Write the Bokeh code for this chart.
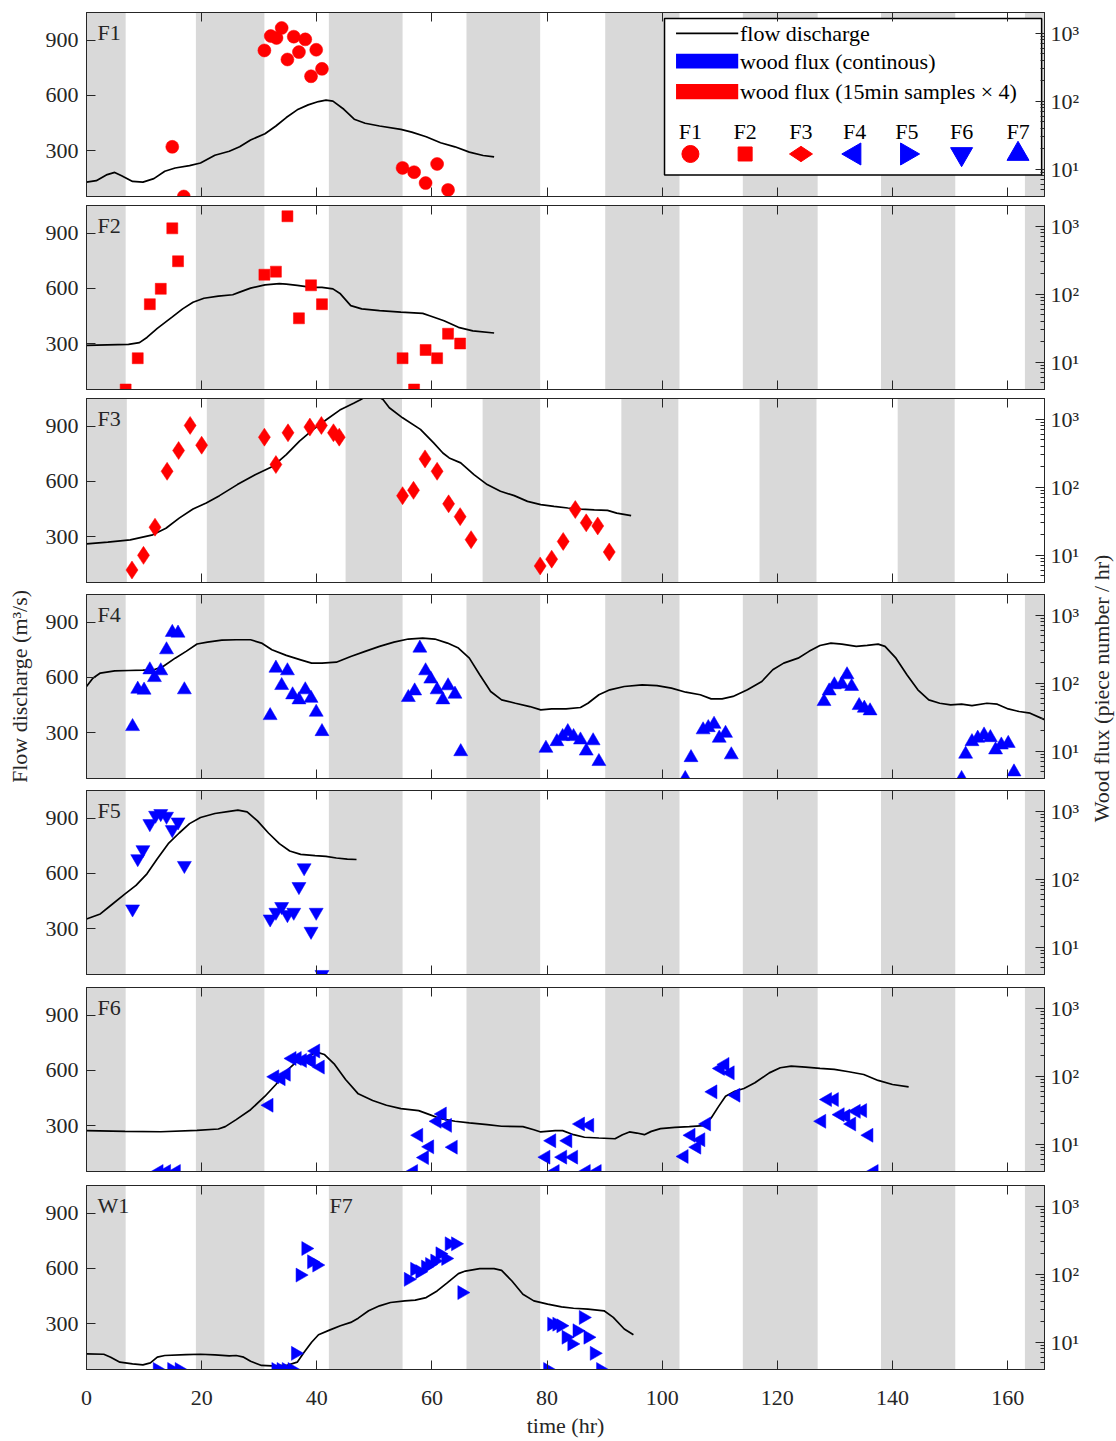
import math
from bokeh.plotting import figure
from bokeh.models import (Range1d, LogScale, LinearAxis, LogAxis, FixedTicker,
                          Label, CustomJSTickFormatter, ColumnDataSource)
from bokeh.layouts import column, row
from bokeh.embed import file_html
from bokeh.resources import INLINE

# ---------------- axes / ticks ----------------
X_MAX = 166.4
Q_MIN, Q_MAX = 50, 1050
FLUX_MIN, FLUX_MAX = 4, 2000
XTICKS = [0, 20, 40, 60, 80, 100, 120, 140, 160]
QTICKS = [300, 600, 900]
FLUX_TICKS = [10, 100, 1000]
FLUX_TICK_LABELS = ["10¹", "10²", "10³"]

# night periods (grey bands)
NIGHT_START = [0, 19.0, 42.1, 66.0, 90.1, 114.0, 138.0, 163.0]
NIGHT_END = [6.8, 30.9, 54.9, 78.8, 103.0, 127.0, 150.9, 166.4]
NIGHT_F3_START = [0, 20.9, 45.0, 68.8, 92.9, 116.9, 140.9]
NIGHT_F3_END = [7.0, 30.9, 54.8, 78.8, 102.8, 126.8, 150.8]

# ---------------- flow discharge (m3/s) ----------------
F1_T = [0, 1.7, 3.6, 4.9, 6.1, 8.0, 9.8, 11.7, 13.6, 15.4, 17.9, 19.8, 22.3, 24.8, 26.6, 28.5, 31.0, 32.9, 34.7, 36.6,
        38.5, 40.3, 41.6, 42.8, 44.7, 46.5, 48.4, 50.9, 54.6, 56.5, 59.0, 61.5, 64.0, 66.5, 68.9, 70.8]
F1_Q = [128, 136, 169, 181, 163, 132, 128, 147, 187, 205, 218, 232, 274, 296, 320, 357, 391, 433, 479, 521,
        548, 566, 574, 568, 524, 470, 448, 433, 415, 400, 375, 342, 320, 291, 273, 265]

F2_T = [0, 3.6, 7.3, 9.2, 10.5, 12.3, 14.8, 16.7, 18.5, 20.4, 22.9, 25.4, 26.6, 28.5, 31.0, 33.5, 34.7, 36.6, 39.1, 40.9,
        42.8, 44.1, 45.9, 47.8, 50.9, 54.6, 58.4, 59.6, 62.1, 64.6, 67.1, 70.8]
F2_Q = [290, 293, 295, 305, 333, 382, 442, 488, 524, 546, 557, 565, 579, 601, 619, 625, 623, 616, 605, 605,
        597, 570, 506, 488, 479, 470, 464, 451, 424, 388, 369, 357]

F3_T = [0, 3.7, 7.6, 11.5, 13.8, 16.1, 18.5, 20.8, 23.1, 26.2, 29.3, 32.4, 34.7, 37.0, 39.4, 41.7, 44.0, 46.4, 47.5, 48.5,
        49.5, 50.5, 51.5, 52.6, 54.9, 58.0, 60.3, 61.9, 63.0, 65.0, 67.3, 69.6, 71.9, 74.3, 76.6, 78.9, 81.2, 83.6, 85.9, 88.2,
        90.5, 92.1, 94.6]
F3_Q = [260, 269, 282, 309, 345, 400, 449, 482, 522, 582, 636, 682, 745, 818, 882, 936, 987, 1024, 1042, 1060,
        1068, 1062, 1045, 1000, 945, 882, 809, 754, 727, 700, 636, 582, 546, 522, 491, 473, 464, 455, 449, 445,
        442, 427, 413]

F4_T = [0, 1.1, 2.4, 4.9, 7.3, 9.8, 11.7, 13.3, 15.4, 17.3, 19.2, 21.0, 23.5, 26.0, 28.5, 30.4, 32.2, 34.7, 37.2, 39.1,
        40.9, 43.4, 45.9, 48.4, 50.9, 53.4, 55.9, 58.4, 60.5, 62.7, 64.6, 66.5, 68.3, 70.2, 72.1, 74.5, 77.0, 78.9, 80.8, 83.3,
        85.8, 87.1, 89.0, 90.9, 93.4, 96.5, 99.1, 101.6, 104.1, 106.6, 108.5, 110.4, 112.3, 114.8, 117.3, 119.2, 121.1, 123.6,
        125.5, 127.4, 129.3, 131.2, 133.7, 135.6, 137.5, 138.7, 140.6, 142.5, 144.4, 146.3, 148.2, 150.1, 152.0, 153.8,
        156.4, 158.2, 160.1, 162.0, 163.9, 166.4]
F4_Q = [550, 595, 623, 635, 637, 639, 641, 659, 704, 741, 781, 791, 802, 804, 804, 786, 750, 719, 695, 677,
        677, 682, 713, 741, 768, 791, 808, 813, 808, 786, 759, 704, 614, 523, 477, 459, 441, 423, 428, 428,
        436, 459, 505, 532, 550, 559, 555, 541, 519, 505, 483, 483, 496, 532, 577, 641, 677, 704, 741, 773,
        786, 780, 768, 773, 780, 768, 704, 614, 532, 477, 459, 450, 454, 446, 459, 454, 428, 414, 405, 370]

F5_T = [0, 2.4, 4.2, 6.7, 8.6, 10.5, 12.3, 14.2, 16.1, 17.9, 19.8, 22.3, 24.8, 26.3, 27.9, 29.7, 31.6, 33.5, 35.3, 37.2,
        39.7, 41.6, 43.4, 45.3, 46.9]
F5_Q = [352, 379, 425, 488, 534, 597, 679, 761, 819, 870, 903, 925, 937, 943, 934, 885, 819, 761, 721, 703,
        696, 692, 683, 677, 675]

F6_T = [0, 6.7, 12.9, 19.2, 22.9, 24.1, 26.0, 28.5, 31.0, 32.9, 34.7, 36.6, 38.5, 40.0, 41.3, 43.1, 45.0, 47.2, 49.7, 52.1,
        54.6, 57.7, 59.6, 61.5, 64.0, 66.5, 69.6, 72.1, 75.8, 77.7, 78.9, 81.4, 82.7, 84.6, 86.5, 89.0, 91.8, 93.1, 94.3, 95.6,
        96.9, 98.1, 99.7, 102.2, 104.7, 107.2, 108.5, 109.8, 111.0, 112.6, 114.2, 116.1, 118.6, 120.5, 122.4, 124.9, 127.4,
        129.9, 132.4, 135.0, 137.5, 140.0, 142.8]
F6_Q = [272, 268, 266, 274, 281, 294, 332, 386, 459, 523, 595, 650, 677, 699, 686, 632, 550, 472, 436, 410,
        392, 381, 359, 337, 323, 314, 305, 296, 294, 277, 265, 272, 272, 250, 236, 232, 228, 250, 265, 259,
        250, 268, 283, 290, 294, 299, 341, 404, 459, 486, 501, 532, 586, 614, 623, 617, 610, 605, 592, 577,
        545, 523, 510]

W1_T = [0, 3.0, 4.2, 5.8, 8.0, 9.8, 11.1, 12.3, 13.6, 17.3, 19.8, 22.3, 24.8, 26.0, 27.3, 28.5, 30.4, 32.2, 34.7, 36.6,
        37.8, 39.1, 40.3, 42.2, 44.1, 45.9, 47.2, 49.0, 50.9, 52.8, 55.3, 57.1, 59.0, 60.9, 62.7, 64.6, 65.8, 68.3, 70.8, 72.1,
        73.9, 75.8, 77.7, 80.1, 82.5, 84.6, 87.1, 89.9, 91.5, 93.4, 95.0]
W1_Q = [135, 133, 117, 90, 81, 75, 86, 117, 126, 131, 133, 129, 124, 126, 117, 95, 72, 70, 72, 90,
        144, 198, 239, 264, 288, 306, 329, 369, 396, 414, 423, 427, 441, 477, 522, 571, 585, 598, 598, 589,
        531, 459, 423, 405, 390, 383, 378, 369, 333, 270, 239]

# ---------------- wood flux (pieces / hr) ----------------
F1_FT = [14.9, 16.9, 30.9, 32.0, 33.0, 33.9, 34.9, 36.0, 36.9, 38.0, 39.0, 39.9, 40.9, 54.9, 56.9, 58.9, 60.9, 62.8]
F1_FV = [21.4, 4, 555, 904, 845, 1186, 409, 884, 525, 807, 232, 568, 298, 10.5, 9.1, 6.3, 12.0, 5.0]

F2_FT = [6.8, 8.9, 11.0, 12.9, 14.9, 15.9, 30.9, 32.9, 34.9, 36.9, 39.0, 40.9, 54.9, 56.9, 58.9, 60.9, 62.8, 64.9]
F2_FV = [4, 11.5, 71.3, 120, 925, 304, 193, 214, 1390, 44.3, 135, 71.3, 11.5, 4, 15.2, 11.5, 26.3, 18.9]

F3_FT = [7.9, 9.9, 11.9, 14.0, 16.0, 18.0, 20.0, 30.9, 32.9, 35.0, 38.8, 40.8, 42.9, 43.9, 54.9, 56.8, 58.8, 60.9,
         62.9, 64.9, 66.8, 78.8, 80.8, 82.8, 84.9, 86.8, 88.8, 90.8]
F3_FV = [6.1, 10.0, 25.9, 171, 345, 805, 413, 542, 215, 628, 761, 805, 628, 542, 75, 90, 260, 171,
         57, 37, 17, 7.0, 8.8, 16, 47, 30, 27, 11.2]

F4_FT = [8.0, 8.9, 10.0, 11.0, 11.8, 12.9, 13.9, 14.9, 15.9, 17.0, 31.9, 32.9, 33.9, 34.9, 35.8, 36.9, 38.0, 39.0, 39.9,
         40.9, 55.9, 57.0, 57.9, 58.9, 59.8, 60.9, 61.9, 62.8, 64.0, 65.0, 79.8, 81.7, 82.7, 83.6, 84.6, 85.8, 86.8, 88.0,
         89.0, 104.0, 105.0, 107.1, 108.0, 109.0, 109.9, 111.0, 112.0, 128.1, 129.0, 129.9, 131.2, 132.1, 132.9, 134.2,
         135.1, 136.1, 152.0, 152.7, 153.8, 154.8, 155.9, 157.0, 157.9, 158.9, 160.1, 161.1]
F4_FV = [23.1, 81.7, 79, 157, 121, 152, 309, 556, 543, 80, 33.5, 166, 92.5, 152, 67.5, 57, 80, 60, 37.5,
         19.5, 61.7, 77, 327, 152, 115, 80, 57, 91.6, 69, 9.9, 11.1, 13.9, 16.5, 19.5, 16.5, 14.7, 10.1, 14.3,
         7.1, 4, 8.1, 20.7, 22.3, 25.0, 15.6, 18.4, 8.9, 53.8, 77, 94.7, 96.8, 133, 89.5, 47,
         43, 39.3, 4, 9.1, 13.9, 15.6, 17.4, 15.9, 10.5, 12.4, 13.1, 5.0]

F5_FT = [8.0, 8.9, 9.8, 11.0, 12.0, 12.9, 13.9, 14.9, 15.9, 17.0, 31.9, 32.9, 33.9, 34.9, 36.0, 36.9, 37.8, 39.0, 39.9, 40.9]
F5_FV = [36.6, 200, 271, 653, 866, 917, 837, 533, 692, 159, 26.1, 32.7, 39.7, 30.2, 32.7, 78, 147, 17.2, 32.7, 4]

F6_FT = [12.6, 13.9, 15.6, 31.7, 32.7, 33.8, 34.7, 35.7, 36.6, 37.5, 38.5, 39.1, 39.8, 40.6, 56.8, 57.7, 58.7, 59.6,
         60.9, 61.8, 62.7, 63.7, 79.8, 80.8, 81.4, 82.7, 83.6, 84.6, 85.8, 86.8, 87.4, 88.7, 103.8, 105.0, 106.0, 106.7,
         107.7, 108.8, 110.1, 110.9, 111.8, 112.8, 127.7, 128.7, 129.9, 130.9, 131.9, 132.9, 133.7, 134.8, 135.9, 136.8]
F6_FV = [4, 4, 4, 37.5, 98, 92, 107, 182, 182, 170, 176, 165, 234, 136, 4, 13.6, 6.4, 9.2,
         21.8, 27.9, 19.0, 9.1, 6.5, 11.3, 4, 6.5, 11.3, 6.5, 19.9, 4, 19.0, 4, 6.65, 13.6, 9.1, 11.7,
         19.9, 58.9, 130, 149, 112, 52.6, 21.8, 45.4, 45.4, 27.3, 26.0, 19.9, 30.5, 31.3, 13.6, 4]

F7_FT = [12.3, 14.8, 16.1, 32.9, 33.8, 34.7, 35.7, 36.3, 37.1, 38.1, 39.1, 40.0, 55.9, 57.0, 57.9, 58.9, 59.6, 60.5,
         61.4, 62.4, 63.0, 64.1, 65.2, 80.1, 80.8, 81.7, 82.4, 83.3, 84.3, 85.2, 86.3, 87.1, 88.2, 89.3]
F7_FV = [4, 4, 4, 4, 4, 4, 4, 6.9, 97, 238, 152, 136, 84, 118, 109, 127, 139, 156,
         199, 170, 279, 279, 53.7, 4, 18.5, 18.5, 17.5, 11.9, 9.5, 14.8, 23.2, 11.9, 6.9, 4]

# ---------------- style ----------------
FONT = "Liberation Serif"
FS = "22px"
AX = "#262626"
GRAY = "#d9d9d9"
RED = "#ff0000"
BLUE = "#0000ff"

LEFT_TRI = math.pi / 2
RIGHT_TRI = -math.pi / 2

PANELS = [
    dict(name="F1", t=F1_T, q=F1_Q, ft=F1_FT, fv=F1_FV, marker="circle", size=13, angle=0, color=RED,
         ns=NIGHT_START, ne=NIGHT_END, top=12),
    dict(name="F2", t=F2_T, q=F2_Q, ft=F2_FT, fv=F2_FV, marker="square", size=11, angle=0, color=RED,
         ns=NIGHT_START, ne=NIGHT_END, top=5),
    dict(name="F3", t=F3_T, q=F3_Q, ft=F3_FT, fv=F3_FV, marker="diamond", size=18, angle=0, color=RED,
         ns=NIGHT_F3_START, ne=NIGHT_F3_END, top=5),
    dict(name="F4", t=F4_T, q=F4_Q, ft=F4_FT, fv=F4_FV, marker="triangle", size=14, angle=0, color=BLUE,
         ns=NIGHT_START, ne=NIGHT_END, top=8),
    dict(name="F5", t=F5_T, q=F5_Q, ft=F5_FT, fv=F5_FV, marker="inverted_triangle", size=14, angle=0, color=BLUE,
         ns=NIGHT_START, ne=NIGHT_END, top=8),
    dict(name="F6", t=F6_T, q=F6_Q, ft=F6_FT, fv=F6_FV, marker="triangle", size=14, angle=LEFT_TRI, color=BLUE,
         ns=NIGHT_START, ne=NIGHT_END, top=9),
    dict(name="W1", t=W1_T, q=W1_Q, ft=F7_FT, fv=F7_FV, marker="triangle", size=14, angle=RIGHT_TRI, color=BLUE,
         ns=NIGHT_START, ne=NIGHT_END, top=10),
]

BOTTOM_AXIS_H = 69
FRAME_H = 184
TOTAL_H = sum(pn["top"] for pn in PANELS) + len(PANELS) * FRAME_H + 4 * (len(PANELS) - 1) + BOTTOM_AXIS_H

minor = []
for e in range(0, 4):
    for k in range(2, 10):
        v = k * 10 ** e
        if FLUX_MIN <= v <= FLUX_MAX:
            minor.append(v)

flux_fmt = CustomJSTickFormatter(
    args=dict(fticks=FLUX_TICKS, flabels=FLUX_TICK_LABELS),
    code="""
    for (let i = 0; i < fticks.length; i++) {
        if (Math.abs(tick - fticks[i]) < 1e-6 * fticks[i]) { return flabels[i]; }
    }
    return '';
    """)


def style_axis(ax):
    ax.axis_line_color = AX
    ax.major_tick_line_color = AX
    ax.minor_tick_line_color = AX
    ax.major_tick_in = 9
    ax.major_tick_out = 0
    ax.minor_tick_in = 4
    ax.minor_tick_out = 0
    ax.major_label_text_font = FONT
    ax.major_label_text_font_size = FS
    ax.major_label_text_color = AX
    ax.axis_label_text_font = FONT
    ax.axis_label_text_font_size = FS
    ax.axis_label_text_font_style = "normal"
    ax.axis_label_text_color = AX


def hide_labels(ax):
    ax.major_label_text_font_size = "0px"
    ax.major_label_standoff = 0
    ax.major_label_text_color = None


figs = []
n = len(PANELS)
for i, pan in enumerate(PANELS):
    last = (i == n - 1)
    p = figure(frame_width=958, frame_height=FRAME_H,
               x_range=Range1d(0, X_MAX), y_range=Range1d(Q_MIN, Q_MAX),
               output_backend="svg", toolbar_location=None,
               min_border_left=86, min_border_right=42,
               min_border_top=pan["top"], min_border_bottom=(4 if not last else BOTTOM_AXIS_H),
               background_fill_color="white", border_fill_color="white")
    p.grid.visible = False
    p.outline_line_color = AX
    p.outline_line_width = 1
    p.extra_y_ranges = {"flux": Range1d(FLUX_MIN, FLUX_MAX)}
    p.extra_y_scales = {"flux": LogScale()}

    # night bands
    p.quad(left=pan["ns"], right=pan["ne"], bottom=Q_MIN, top=Q_MAX,
           fill_color=GRAY, line_color=None)
    # flow discharge
    p.line(pan["t"], pan["q"], line_color="black", line_width=1.7)
    # wood flux
    p.scatter(pan["ft"], pan["fv"], marker=pan["marker"], size=pan["size"], angle=pan["angle"],
              fill_color=pan["color"], line_color=pan["color"], line_width=0.5, y_range_name="flux")

    # axes
    bx = p.below[0]
    style_axis(bx)
    bx.ticker = FixedTicker(ticks=XTICKS)
    bx.minor_tick_line_color = None
    if last:
        bx.axis_label = "time (hr)"
        bx.major_label_standoff = 21
        bx.axis_label_standoff = 5
    else:
        hide_labels(bx)

    tx = LinearAxis(ticker=FixedTicker(ticks=XTICKS))
    style_axis(tx)
    tx.minor_tick_line_color = None
    hide_labels(tx)
    p.add_layout(tx, "above")

    ly = p.left[0]
    style_axis(ly)
    ly.ticker = FixedTicker(ticks=QTICKS)
    ly.minor_tick_line_color = None
    ly.major_label_standoff = 8

    ry = LogAxis(y_range_name="flux", ticker=FixedTicker(ticks=FLUX_TICKS, minor_ticks=minor),
                 formatter=flux_fmt)
    style_axis(ry)
    ry.major_label_standoff = 6
    p.add_layout(ry, "right")

    if pan["name"] == "F4":
        ly.axis_label = "Flow discharge (m³/s)"
        ly.axis_label_standoff = 11

    p.add_layout(Label(x=1.9, y=940, text=pan["name"], text_font=FONT, text_font_size=FS,
                       text_color=AX, text_baseline="middle", text_align="left"))
    if pan["name"] == "W1":
        p.add_layout(Label(x=42.2, y=940, text="F7", text_font=FONT, text_font_size=FS,
                           text_color=AX, text_baseline="middle", text_align="left"))

    if i == 0:
        # legend box drawn in the first panel
        p.quad(left=[100.4], right=[165.9], bottom=[167], top=[1018],
               fill_color="white", line_color="black", line_width=1.5)
        p.line([102.4, 113.2], [937, 937], line_color="black", line_width=1.7)
        p.quad(left=[102.4], right=[113.2], bottom=[786 - 40], top=[786 + 40],
               fill_color=BLUE, line_color=None)
        p.quad(left=[102.4], right=[113.2], bottom=[620 - 42], top=[620 + 42],
               fill_color=RED, line_color=None)
        for yy, txt in [(937, "flow discharge"), (786, "wood flux (continous)"),
                        (620, "wood flux (15min samples × 4)")]:
            p.add_layout(Label(x=113.5, y=yy, text=txt, text_font=FONT, text_font_size=FS,
                               text_color="black", text_baseline="middle", text_align="left"))
        leg_x = [104.9, 114.4, 124.1, 133.4, 142.5, 152.0, 161.8]
        leg_names = ["F1", "F2", "F3", "F4", "F5", "F6", "F7"]
        leg_src = ColumnDataSource(dict(
            x=leg_x, y=[281] * 7,
            marker=["circle", "square", "diamond", "triangle", "triangle", "inverted_triangle", "triangle"],
            angle=[0, 0, math.pi / 2, LEFT_TRI, RIGHT_TRI, 0, 0],
            size=[17, 14, 23, 22, 22, 22, 22],
            color=[RED, RED, RED, BLUE, BLUE, BLUE, BLUE]))
        p.scatter("x", "y", marker="marker", angle="angle", size="size", fill_color="color",
                  line_color="color", source=leg_src)
        for xx, nm in zip(leg_x, leg_names):
            p.add_layout(Label(x=xx, y=402, text=nm, text_font=FONT, text_font_size=FS,
                               text_color="black", text_baseline="middle", text_align="center"))
    figs.append(p)

# narrow strip on the right that carries the right-hand axis title (spans several panels)
strip = figure(frame_width=30, frame_height=TOTAL_H, x_range=Range1d(0, 1), y_range=Range1d(0, TOTAL_H),
               x_axis_location=None, y_axis_location=None, output_backend="svg", toolbar_location=None,
               min_border=0, outline_line_color=None, background_fill_color="white",
               border_fill_color="white")
strip.grid.visible = False
strip.add_layout(Label(x=0.5, y=TOTAL_H - 688, text="Wood flux (piece number / hr)", angle=math.pi / 2,
                       text_font=FONT, text_font_size=FS, text_color=AX,
                       text_align="center", text_baseline="middle"))

layout = row(column(*figs, spacing=0), strip, spacing=0)
open("out.html", "w").write(file_html(layout, INLINE))
